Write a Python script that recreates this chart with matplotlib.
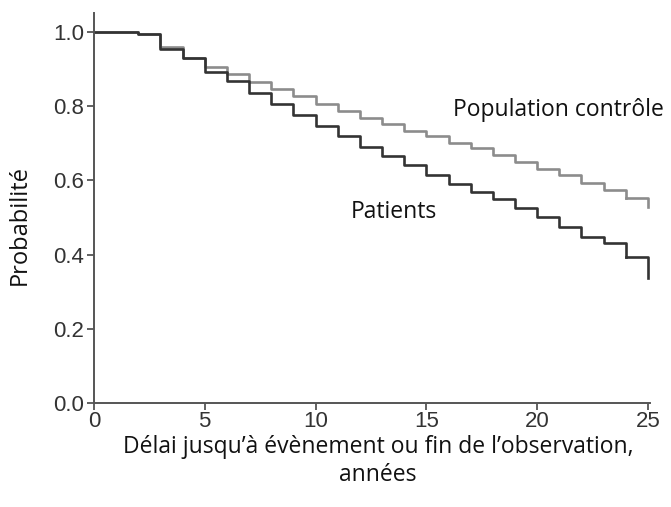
import matplotlib
matplotlib.use("Agg")
import matplotlib.pyplot as plt

# years at which the curves step down (last one = end of follow-up)
years = [0, 2, 3, 4, 5, 6, 7, 8, 9, 10, 11, 12, 13, 14, 15, 16, 17, 18,
         19, 20, 21, 22, 23, 24, 25]

# survival probability after each step
controle = [1.0, 0.995, 0.958, 0.93, 0.905, 0.887, 0.866, 0.846, 0.826,
            0.806, 0.787, 0.768, 0.752, 0.733, 0.718, 0.70, 0.688, 0.668,
            0.65, 0.631, 0.613, 0.594, 0.575, 0.552, 0.528]
patients = [1.0, 0.995, 0.953, 0.928, 0.892, 0.868, 0.836, 0.805, 0.776,
            0.745, 0.72, 0.69, 0.666, 0.64, 0.615, 0.59, 0.568, 0.55,
            0.526, 0.50, 0.474, 0.447, 0.43, 0.394, 0.337]

xticks = [0, 5, 10, 15, 20, 25]
yticks = [0.0, 0.2, 0.4, 0.6, 0.8, 1.0]

label_font = "Open Sans"
tick_font = "Liberation Sans"

fig = plt.figure(figsize=(6.71, 5.07), dpi=100)
ax = fig.add_axes([0.140, 0.205, 0.829, 0.769])

# each curve: steps, then a vertical drop at the last year
for surv, col in [(controle, "#8c8c8c"), (patients, "#333333")]:
    ax.step(years[:-1], surv[:-1], where="post", color=col, lw=1.9)
    ax.plot([years[-2], years[-1], years[-1]], [surv[-2], surv[-2], surv[-1]],
            color=col, lw=1.9)

ax.set_xlim(0, 25.1)
ax.set_ylim(0, 1.05)
ax.set_xticks(xticks)
ax.set_yticks(yticks)
ax.set_yticklabels([f"{v:.1f}" for v in yticks])

for s in ["top", "right"]:
    ax.spines[s].set_visible(False)
for s in ["left", "bottom"]:
    ax.spines[s].set_color("#555555")
    ax.spines[s].set_linewidth(1.4)
ax.tick_params(direction="out", length=5, width=1.3, color="#555555",
               labelsize=16, labelcolor="#333333", pad=2)
ax.tick_params(axis="x", pad=1)
for lab in ax.get_xticklabels() + ax.get_yticklabels():
    lab.set_fontfamily(tick_font)

fig.text(20 / 671, 1 - 225 / 507, "Probabilité", rotation=90, ha="center",
         va="center", fontfamily=label_font, fontsize=17, color="#111111")
fig.text(0.563, 0.142, "Délai jusqu’à évènement ou fin de l’observation,\nannées",
         ha="center", va="top", fontfamily=label_font, fontsize=16.5,
         color="#111111", linespacing=1.2)

ax.text(16.2, 0.79, "Population contrôle", fontfamily=label_font, fontsize=16.5,
        color="#111111", va="center", ha="left")
ax.text(11.6, 0.515, "Patients", fontfamily=label_font, fontsize=16.5,
        color="#111111", va="center", ha="left")

fig.savefig("out.png", dpi=100)
